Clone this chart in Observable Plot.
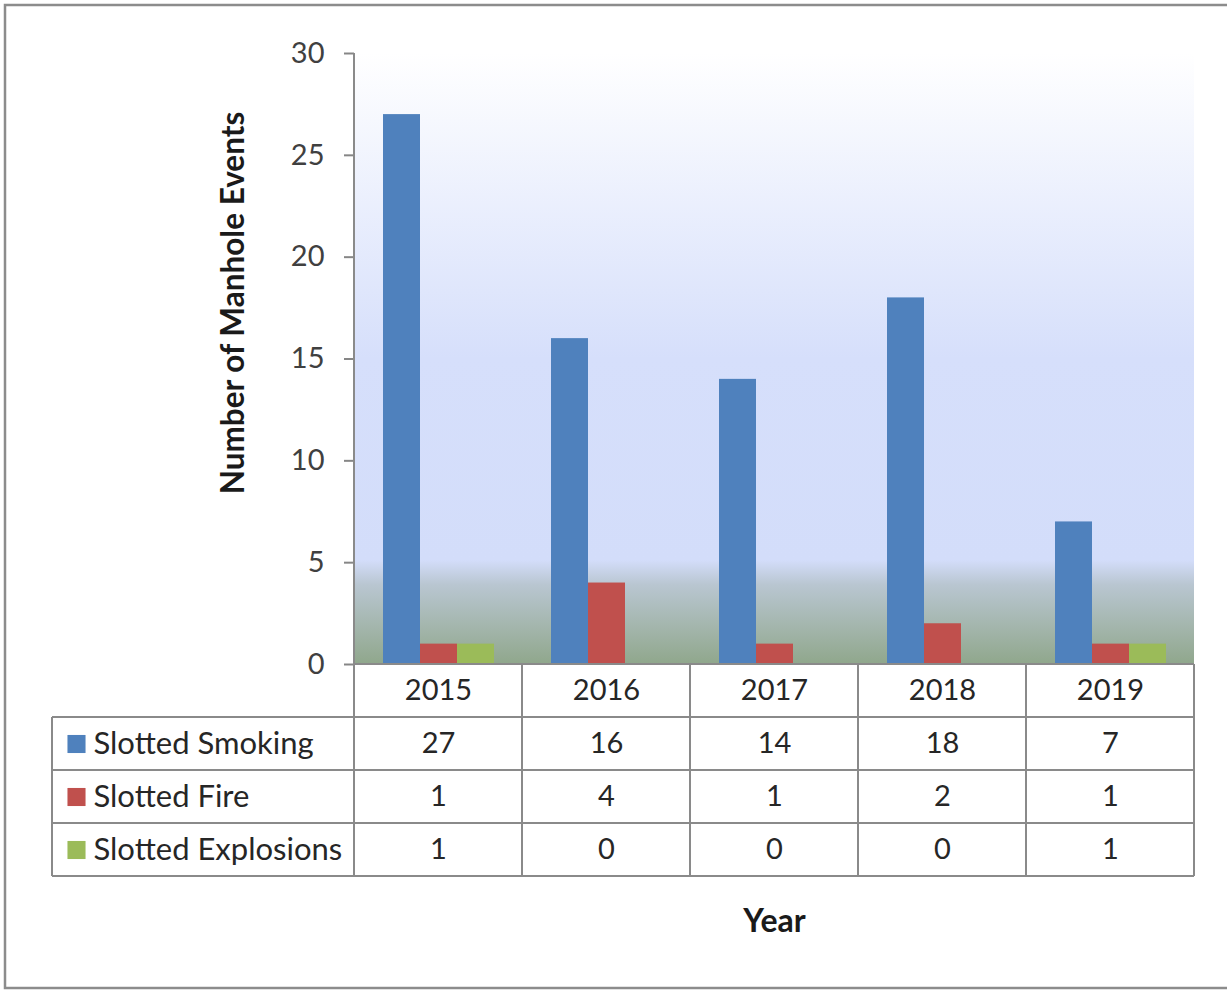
<!DOCTYPE html>
<html>
<head>
<meta charset="utf-8">
<script src="https://cdn.jsdelivr.net/npm/d3@7"></script>
<script src="https://cdn.jsdelivr.net/npm/@observablehq/plot@0.6"></script>
<style>
  html, body { margin: 0; padding: 0; background: #ffffff; }
  #chart svg { display: block; }
</style>
</head>
<body>
<div id="chart"></div>
<script>
// Manhole events per year, by event type
const years = ["2015", "2016", "2017", "2018", "2019"];
const seriesNames = ["Slotted Smoking", "Slotted Fire", "Slotted Explosions"];
const seriesColors = ["#4f81bd", "#c0504d", "#9bbb59"];
const smoking = [27, 16, 14, 18, 7];
const fire = [1, 4, 1, 2, 1];
const explosions = [1, 0, 0, 0, 1];
const yTicks = [0, 5, 10, 15, 20, 25, 30];
const yTitle = "Number of Manhole Events";
const xTitle = "Year";

const seriesValues = [smoking, fire, explosions];
const rows = [];
seriesNames.forEach((s, si) => {
  years.forEach((yr, yi) => rows.push({year: yr, series: s, row: si, value: seriesValues[si][yi]}));
});

(function () {
const W = 1227, H = 990;
const mL = 352, mR = 32, mT = 53, mB = 326;
const rowH = 53;
const font = "Lato, 'Open Sans', sans-serif";
const textColor = "#262626";

// table rows below the plot: header (years) then one row per series
const rowMarks = seriesNames.map((s, si) =>
  Plot.text(rows.filter(d => d.row === si), {
    fx: "year", text: d => String(d.value), frameAnchor: "bottom",
    textAnchor: "middle", lineAnchor: "middle",
    dy: rowH * (si + 1) + rowH / 2, fontSize: 29, fill: textColor
  })
);

// legend keys in the first table column
const keyMarks = seriesNames.map((s, si) =>
  Plot.dot([s], {
    fx: () => years[0], frameAnchor: "bottom-left",
    dx: 74 - mL, dy: rowH * (si + 1.5),
    symbol: "square", r: 10.2, fill: d => d
  })
);

const nameMarks = seriesNames.map((s, si) =>
  Plot.text([s], {
    fx: () => years[0], frameAnchor: "bottom-left", text: d => d,
    dx: 91 - mL, dy: rowH * (si + 1.5), textAnchor: "start", lineAnchor: "middle",
    fontSize: 31, fill: textColor
  })
);

const plot = Plot.plot({
  width: W,
  height: H,
  marginLeft: mL,
  marginRight: mR,
  marginTop: mT,
  marginBottom: mB,
  style: {fontFamily: font, background: "transparent", overflow: "visible"},
  fx: {domain: years, padding: 0, axis: null},
  x: {domain: seriesNames, paddingInner: 0, paddingOuter: 0.72, axis: null},
  y: {domain: [0, 30], axis: null},
  color: {domain: seriesNames, range: seriesColors},
  marks: [
    Plot.barY(rows, {fx: "year", x: "series", y: "value", fill: "series", inset: 0}),
    Plot.axisY({
      ticks: yTicks, tickSize: 10, tickPadding: 20, label: null,
      fontSize: 29, stroke: "#868686", strokeWidth: 2, color: "#404040",
      tickFormat: d => String(d)
    }),
    Plot.text(years, {
      fx: d => d, text: d => d, frameAnchor: "bottom", textAnchor: "middle", lineAnchor: "middle",
      dy: rowH / 2, fontSize: 29, fill: textColor
    }),
    ...rowMarks,
    ...keyMarks,
    ...nameMarks,
    // axis titles
    Plot.text([yTitle], {
      fx: () => years[0], frameAnchor: "left", text: d => d, rotate: -90,
      textAnchor: "middle", lineAnchor: "middle",
      dx: -121, dy: -56, fontSize: 31.5, fontWeight: "bold", fill: "#1a1a1a"
    }),
    Plot.text([xTitle], {
      fx: () => years[2], frameAnchor: "bottom", text: d => d,
      textAnchor: "middle", lineAnchor: "middle",
      dy: 257, fontSize: 32, fontWeight: "bold", fill: "#1a1a1a"
    })
  ]
});

document.getElementById("chart").appendChild(plot);

// Background gradient, axis line, table grid and outer frame
const fxs = plot.scale("fx");
const ys = plot.scale("y");
const bandW = fxs.bandwidth;
const bandX = yr => fxs.apply(yr);
const plotLeft = bandX(years[0]);
const plotRight = bandX(years[years.length - 1]) + bandW;
const plotTop = ys.apply(30);
const plotBase = ys.apply(0);

const svg = d3.select(plot);
const ns = "http://www.w3.org/2000/svg";
const bg = document.createElementNS(ns, "g");
plot.insertBefore(bg, plot.querySelector("g"));
const bgSel = d3.select(bg);
const grad = bgSel.append("defs").append("linearGradient")
  .attr("id", "plot-bg").attr("x1", 0).attr("y1", 0).attr("x2", 0).attr("y2", 1);
[[0, "#ffffff"], [0.5, "#d6dffb"], [0.83, "#d3ddfa"], [0.87, "#b9c6d1"], [1, "#90a78c"]]
  .forEach(([o, c]) => grad.append("stop").attr("offset", o).attr("stop-color", c));
bgSel.append("rect")
  .attr("x", plotLeft).attr("y", plotTop).attr("width", plotRight - plotLeft).attr("height", plotBase - plotTop)
  .attr("fill", "url(#plot-bg)");

const grid = svg.append("g").attr("stroke", "#8a8a8a").attr("stroke-width", 2).attr("fill", "none");
const nRows = seriesNames.length + 1;
// y axis line
grid.append("line").attr("x1", plotLeft).attr("x2", plotLeft).attr("y1", plotTop).attr("y2", plotBase);
// horizontal table lines
const tableLeft = 52;
grid.append("line").attr("x1", plotLeft).attr("x2", plotRight).attr("y1", plotBase).attr("y2", plotBase);
for (let i = 1; i <= nRows; i++) {
  grid.append("line").attr("x1", tableLeft).attr("x2", plotRight)
    .attr("y1", plotBase + rowH * i).attr("y2", plotBase + rowH * i);
}
// vertical table lines
grid.append("line").attr("x1", tableLeft).attr("x2", tableLeft)
  .attr("y1", plotBase + rowH).attr("y2", plotBase + rowH * nRows);
years.forEach(yr => {
  grid.append("line").attr("x1", bandX(yr)).attr("x2", bandX(yr))
    .attr("y1", plotBase).attr("y2", plotBase + rowH * nRows);
});
grid.append("line").attr("x1", plotRight).attr("x2", plotRight)
  .attr("y1", plotBase).attr("y2", plotBase + rowH * nRows);

// outer chart border
svg.append("rect").attr("x", 5).attr("y", 5).attr("width", 1240).attr("height", 983)
  .attr("fill", "none").attr("stroke", "#8c8c8c").attr("stroke-width", 2.5);
})();
</script>
</body>
</html>
